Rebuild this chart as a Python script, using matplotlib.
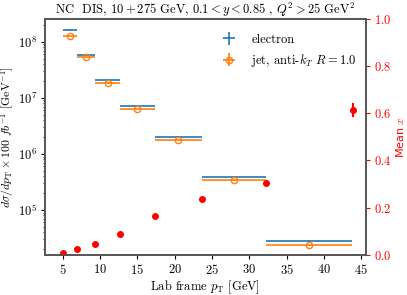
import numpy as np
import matplotlib
matplotlib.use("Agg")
import matplotlib.pyplot as plt

plt.rcParams.update({
    "font.size": 9,
    "font.family": "serif",
    "font.serif": ["cmr10"],
    "mathtext.fontset": "cm",
    "axes.unicode_minus": False,
    "axes.formatter.use_mathtext": True,
    "xtick.major.size": 3,
    "ytick.major.size": 3,
    "ytick.minor.size": 1.8,
    "xtick.major.pad": 2.5,
    "ytick.major.pad": 2.5,
})

# bin edges in lab frame pT [GeV]
bin_edges = np.array([5.0, 6.9, 9.3, 12.7, 17.3, 23.6, 32.2, 43.8])
xs_electron = [1.6e8, 5.9e7, 2.07e7, 7.1e6, 2.04e6, 3.84e5, 2.83e4]
xs_electron_err = [0.06e8, 0.15e7, 0.04e7, 0.1e6, 0.03e6, 0.07e5, 0.1e4]
xs_jet = [1.28e8, 5.3e7, 1.87e7, 6.3e6, 1.8e6, 3.39e5, 2.37e4]
xs_jet_err = [0.02e8, 0.05e7, 0.02e7, 0.05e6, 0.02e6, 0.05e5, 0.05e4]
mean_x_pt = [5.0, 6.9, 9.3, 12.7, 17.3, 23.6, 32.2, 43.9]
mean_x = [0.008, 0.024, 0.047, 0.09, 0.165, 0.236, 0.305, 0.614]
mean_x_err = [0.0, 0.0, 0.0, 0.0, 0.0, 0.0, 0.0, 0.03]

centers = 0.5 * (bin_edges[1:] + bin_edges[:-1])
half_w = 0.5 * (bin_edges[1:] - bin_edges[:-1])

fig = plt.figure(figsize=(4.07, 2.95), dpi=100)
ax = fig.add_axes([0.11, 0.136, 0.789, 0.800])

ax.errorbar(centers, xs_electron, xerr=half_w, yerr=xs_electron_err, fmt="none",
            color="tab:blue", lw=1.2, label="electron")
ax.errorbar(centers, xs_jet, xerr=half_w, yerr=xs_jet_err, fmt="o", mfc="none",
            ms=4.5, mew=1.0, lw=1.2, color="tab:orange", label="jet, anti-$k_T$ $R=1.0$")
ax.set_yscale("log")
ax.set_xlim(2.6, 45.6)
ax.set_ylim(10**4.2, 10**8.41)
ax.set_xticks(np.arange(5, 46, 5))
ax.set_xlabel(r"Lab frame $p_{\rm T}$ [GeV]", labelpad=1.5)
ax.set_ylabel(r"$d\sigma/dp_{\rm T} \times 100\ fb^{-1}$ [GeV$^{-1}$]",
              fontsize=8.5, labelpad=1)
ax.set_title(r"NC  DIS, $10+275$ GeV, $0.1 < y < 0.85$ , $Q^2 > 25$ GeV$^2$",
             fontsize=9, pad=3)
ax.legend(loc="upper right", frameon=False, bbox_to_anchor=(1.0, 0.975),
          handletextpad=0.8, borderaxespad=0.3)

ax2 = ax.twinx()
ax2.errorbar(mean_x_pt, mean_x, yerr=mean_x_err, fmt="o", color="red", ms=4)
ax2.set_ylim(0, 1)
ax2.tick_params(axis="y", colors="red")
ax2.set_ylabel("Mean $x$", color="red", family="DejaVu Sans", fontsize=8, labelpad=2)

for a in (ax, ax2):
    for sp in a.spines.values():
        sp.set_color("#555555")
        sp.set_linewidth(1.2)

fig.savefig("out.png", dpi=100)
